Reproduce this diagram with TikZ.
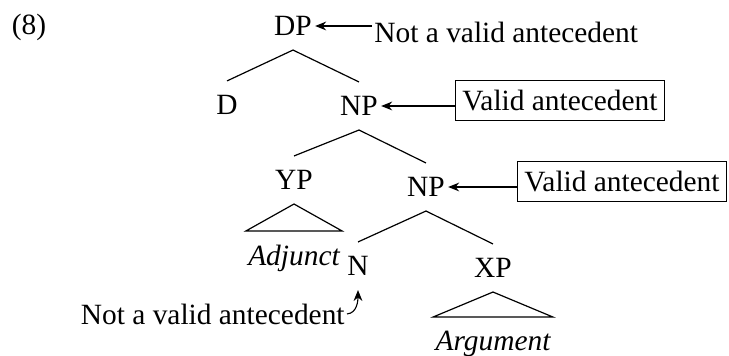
\documentclass[tikz,border=0pt]{standalone}
\usepackage{fontspec}
\setmainfont{Liberation Serif}
\usepackage{tikz}
\usetikzlibrary{arrows.meta,positioning}
\newcommand{\treefont}{\fontsize{14.7}{17}\selectfont}
\tikzset{
  tnode/.style={inner xsep=1.5pt,inner ysep=7pt},
  troof/.style={inner xsep=1pt,inner ysep=7pt,anchor=north,font=\treefont\itshape},
  tnote/.style={inner xsep=1pt},
  tbox/.style={draw,line width=0.5pt,inner xsep=3.5pt,minimum height=20pt},
  tarr/.style={-{Stealth[length=5.5pt,width=4.4pt,inset=1.8pt]},line width=0.55pt},
  tline/.style={line width=0.6pt}
}

\begin{document}
\begin{tikzpicture}[x=0.5pt,y=-0.5pt,font=\treefont]
  \useasboundingbox (0,0) rectangle (729,356);
  \node[anchor=base] (ex) at (29,35) {(8)};
  \node[tnode] (dp) at (293,26) {DP};
  \node[tnode] (d) at (227,105) {D};
  \node[tnode] (np1) at (359,106) {NP};
  \node[tnode] (yp) at (294,180) {YP};
  \node[tnode] (np2) at (426,187) {NP};
  \node[tnode] (n) at (358,266) {N};
  \node[tnode] (xp) at (493,268) {XP};
  \node[troof] (adj) at (294,231) {Adjunct};
  \node[troof] (arg) at (493,317) {Argument};
  \node[tnote,anchor=west] (nota) at (372,32) {Not a valid antecedent};
  \node[tbox] (vala) at (560,101) {Valid antecedent};
  \node[tbox] (valb) at (622,182) {Valid antecedent};
  \node[tnote,anchor=east] (notb) at (347,314) {Not a valid antecedent};
  \draw[tline] (d.north) -- (dp.south) -- (np1.north);
  \draw[tline] (yp.north) -- (np1.south) -- (np2.north);
  \draw[tline] (n.north) -- (np2.south) -- (xp.north);
  \draw[tline] (yp.south) -- (adj.north west) -- (adj.north east) -- cycle;
  \draw[tline] (xp.south) -- (arg.north west) -- (arg.north east) -- cycle;
  \draw[tarr] (dp.east -| nota.west) -- (dp.east);
  \draw[tarr] (np1.east -| vala.west) -- (np1.east);
  \draw[tarr] (np2.east -| valb.west) -- (np2.east);
  \draw[tarr] (notb.east) to[out=5,in=-90] (n.south);
\end{tikzpicture}
\end{document}
